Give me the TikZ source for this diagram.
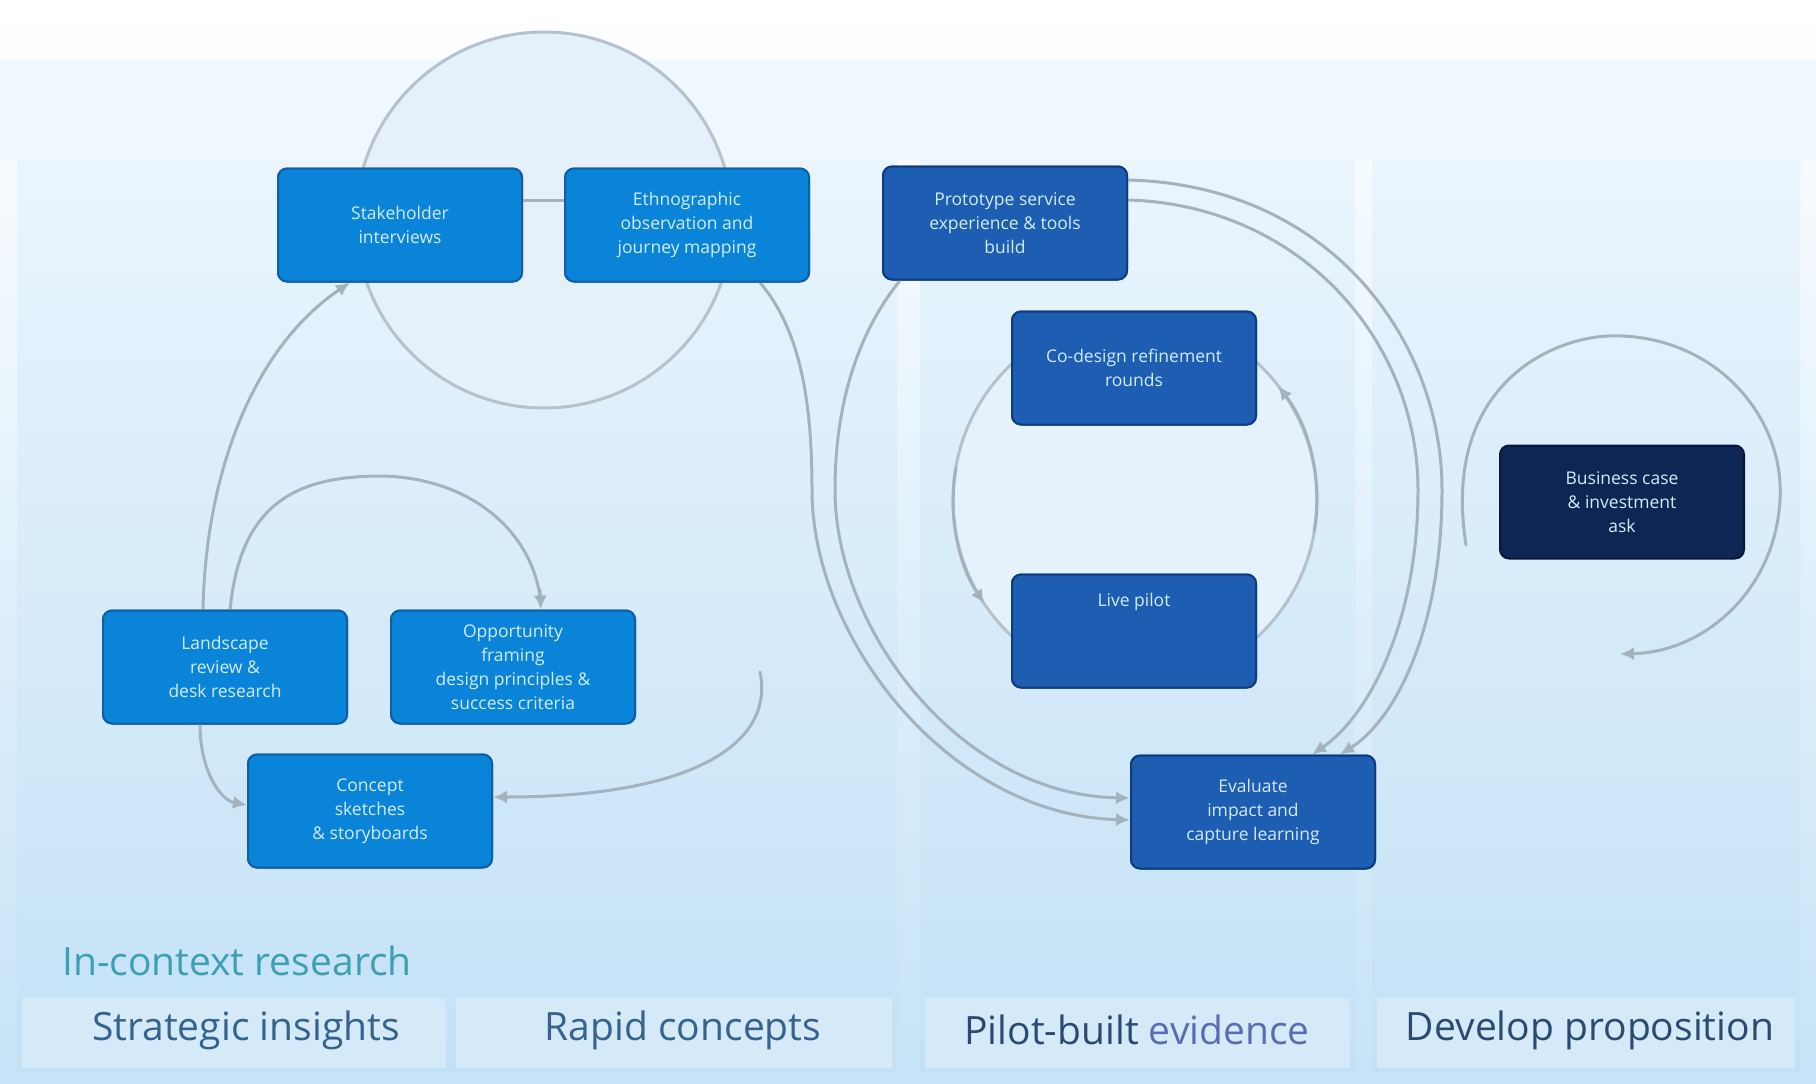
\documentclass[tikz,border=0pt]{standalone}
\usepackage{fontspec}
\setmainfont{Open Sans}
\usetikzlibrary{arrows.meta}
\definecolor{bgbot}{HTML}{C6E3F7}
\definecolor{bandlight}{HTML}{F1F8FD}
\definecolor{paneltop}{HTML}{EAF5FD}
\definecolor{panelbot}{HTML}{C3E1F6}
\definecolor{strip}{HTML}{D4EAF9}
\definecolor{lightbox}{HTML}{0A84D8}
\definecolor{lightedge}{HTML}{0F5FA6}
\definecolor{midbox}{HTML}{1D5DB2}
\definecolor{midedge}{HTML}{0E3C7E}
\definecolor{navybox}{HTML}{0F2655}
\definecolor{navyedge}{HTML}{08183A}
\definecolor{boxtext}{HTML}{D2ECFC}
\definecolor{linegray}{HTML}{A4B2BE}
\definecolor{circfill}{HTML}{E4F1FB}
\definecolor{tealtext}{HTML}{3C9FB2}
\definecolor{labtext}{HTML}{35628E}
\definecolor{labdark}{HTML}{2B4A70}
\definecolor{labpurple}{HTML}{5A6DB4}
\tikzset{
  box/.style={rounded corners=9pt, minimum width=244pt, minimum height=113pt,
    align=center, text=boxtext, line width=2pt, inner sep=4pt,
    font=\fontsize{17.5}{24}\selectfont},
  lb/.style={box, fill=lightbox, draw=lightedge},
  mb/.style={box, fill=midbox, draw=midedge},
  db/.style={box, fill=navybox, draw=navyedge},
  conn/.style={draw=linegray, line width=3pt, line cap=round},
  arr/.style={conn, -{Latex[length=14pt,width=13pt]}},
  ring/.style={draw=linegray!80, line width=3pt, fill=circfill},
  stagelab/.style={font=\fontsize{39}{46}\selectfont, inner sep=0pt}
}
\begin{document}
\begin{tikzpicture}[x=1pt,y=-1pt]
\useasboundingbox (0,0) rectangle (1816,1084);
% background
\shade[top color=white, bottom color=bgbot] (0,0) rectangle (1816,1084);
\fill[bandlight] (0,60) rectangle (1816,160);
% panels
\shade[top color=paneltop, bottom color=panelbot] (17,160) rectangle (897,1072);
\shade[top color=paneltop, bottom color=panelbot] (920,160) rectangle (1355,1072);
\shade[top color=paneltop, bottom color=panelbot] (1372,160) rectangle (1800,1072);
% bottom label strips
\fill[strip] (22,998) rectangle (446,1068);
\fill[strip] (456,998) rectangle (892,1068);
\fill[strip] (925,998) rectangle (1350,1068);
\fill[strip] (1377,998) rectangle (1795,1068);
% rings
\draw[ring] (544,220) circle[radius=188pt];
\draw[ring, fill=circfill!85!paneltop] (1135,500) ellipse[x radius=182pt, y radius=185pt];
% free ends
\coordinate (s8a) at (203,611);
\coordinate (s8b) at (230,611);
\coordinate (s9) at (760,672);
\coordinate (s7) at (1466,545);
% boxes
\node[lb] (n1) at (400,225) {Stakeholder\\interviews};
\node[lb] (n2) at (687,225) {Ethnographic\\observation and\\journey mapping};
\node[mb] (n3) at (1005,223) {Prototype service\\experience \& tools\\build};
\node[mb] (n4) at (1134,368) {Co-design refinement\\rounds};
\node[mb, text height=13pt, text depth=62pt] (n5) at (1134,631) {Live pilot};
\node[mb] (n6) at (1253,812) {Evaluate\\impact and\\capture learning};
\node[db] (n7) at (1622,502) {Business case\\\& investment\\ask};
\node[lb] (n8) at (225,667) {Landscape\\review \&\\desk research};
\node[lb] (n9) at (513,667) {Opportunity\\framing\\design principles \&\\success criteria};
\node[lb] (n10) at (370,811) {Concept\\sketches\\\& storyboards};
% left panel connectors
\draw[conn] (s8b) .. controls (240,500) and (300,476) .. (382,476)
   .. controls (470,478) and (530,530) .. (540,596);
\draw[arr] (540,590) -- (n9.north west -| 541,611);
\draw[arr] (s8a) .. controls (205,480) and (250,350) .. (n1.south west -| 350,283);
\draw[arr] (s9) .. controls (775,745) and (690,797) .. (n10.east |- 0,797);
\draw[arr] (n8.south west -| 200,724) .. controls (200,770) and (220,800) .. (n10.west |- 0,805);
\draw[conn] (n1.east |- 0,200) -- (n2.west |- 0,200);
% big middle loops
\draw[arr] (n2.south east -| 760,283) .. controls (800,330) and (812,400) .. (812,490)
   .. controls (812,640) and (950,815) .. (n6.west |- 0,820);
\draw[arr] (n3.south west -| 900,279) .. controls (860,330) and (835,400) .. (835,490)
   .. controls (835,630) and (960,795) .. (n6.west |- 0,798);
\draw[arr] (n3.east |- 0,200) .. controls (1300,205) and (1418,340) .. (1418,490)
   .. controls (1418,620) and (1370,715) .. (n6.north -| 1312,756);
\draw[arr] (n3.east |- 0,180) .. controls (1330,185) and (1442,340) .. (1442,490)
   .. controls (1442,630) and (1395,720) .. (n6.north -| 1340,756);
% arrows along the middle ring
\draw[arr] (1314,532) arc[start angle=-10, end angle=38, x radius=182pt, y radius=185pt];
\draw[arr] (956,468) arc[start angle=170, end angle=214, x radius=182pt, y radius=185pt];
% right loop
\draw[arr] (s7) .. controls (1440,380) and (1560,332) .. (1622,336)
   .. controls (1720,340) and (1785,420) .. (1780,500)
   .. controls (1775,590) and (1705,652) .. (1620,654);
% redraw boxes on top of connectors
\node[lb] at (n1) {Stakeholder\\interviews};
\node[lb] at (n2) {Ethnographic\\observation and\\journey mapping};
\node[mb] at (n3) {Prototype service\\experience \& tools\\build};
\node[mb] at (n4) {Co-design refinement\\rounds};
\node[mb, text height=13pt, text depth=62pt] at (n5) {Live pilot};
\node[mb] at (n6) {Evaluate\\impact and\\capture learning};
\node[lb] at (n8) {Landscape\\review \&\\desk research};
\node[lb] at (n9) {Opportunity\\framing\\design principles \&\\success criteria};
\node[lb] at (n10) {Concept\\sketches\\\& storyboards};
% stage labels
\node[stagelab, text=tealtext, anchor=west] (lic) at (62,961) {In-context research};
\node[stagelab, text=labtext] (lsi) at (246,1030) {Strategic insights};
\node[stagelab, text=labtext] (lrc) at (683,1030) {Rapid concepts};
\node[stagelab] (lpb) at (1137,1030) {\textcolor{labdark}{Pilot-built} \textcolor{labpurple}{evidence}};
\node[stagelab, text=labdark] (ldp) at (1590,1030) {Develop proposition};
\end{tikzpicture}
\end{document}
